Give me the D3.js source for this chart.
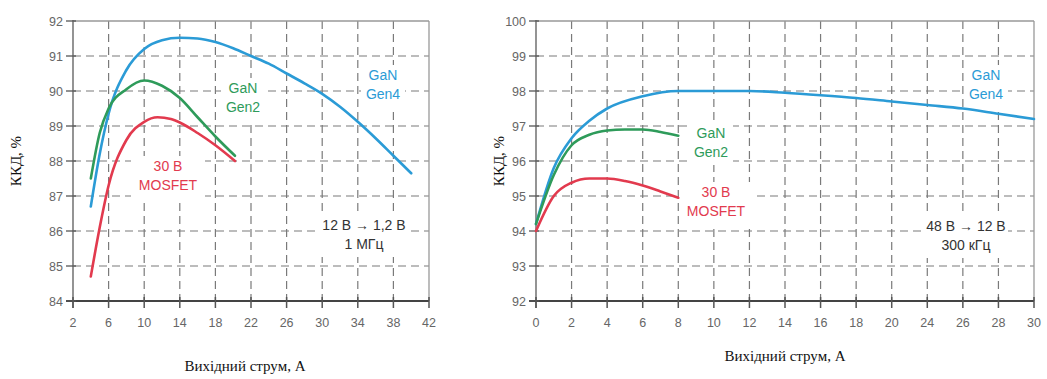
<!DOCTYPE html>
<html>
<head>
<meta charset="utf-8">
<script src="https://cdn.jsdelivr.net/npm/d3@7"></script>
<style>
  body { margin: 0; background: #fff; }
  .tick-label { font-family: Arial, "Liberation Sans", sans-serif; font-size: 12.5px; fill: #666; }
  .axis-title { font-family: "Times New Roman", "Liberation Serif", serif; font-size: 15px; fill: #111; }
  .note { font-family: Arial, "Liberation Sans", sans-serif; font-size: 14px; }
</style>
</head>
<body>
<svg id="chart" width="1047" height="379"></svg>
<script>
// Left chart: 12 V -> 1.2 V, 1 MHz
var left_x = [4, 5, 6, 8, 10, 12, 14, 16, 18, 20, 22, 24, 26, 28, 30, 32, 34, 36, 38, 40];
var left_gen4 = [86.7, 88.2, 89.35, 90.6, 91.2, 91.45, 91.52, 91.5, 91.4, 91.22, 91.0, 90.78, 90.5, 90.22, 89.92, 89.55, 89.12, 88.65, 88.15, 87.65];
var left_gen2_x = [4, 5, 6, 8, 10, 12, 14, 16, 18, 20.2];
var left_gen2 = [87.5, 88.8, 89.5, 90.05, 90.3, 90.15, 89.8, 89.25, 88.7, 88.15];
var left_mos_x = [4, 5, 6, 8, 10, 11.5, 13, 14, 16, 18, 20.2];
var left_mos = [84.7, 86.1, 87.3, 88.6, 89.12, 89.25, 89.2, 89.1, 88.8, 88.45, 88.0];
var left_xticks = [2, 6, 10, 14, 18, 22, 26, 30, 34, 38, 42];
var left_yticks = [84, 85, 86, 87, 88, 89, 90, 91, 92];

// Right chart: 48 V -> 12 V, 300 kHz (tick labels as printed, "22" is missing)
var right_x = [0, 1, 2, 3, 4, 6, 8, 10, 12, 14, 16, 18, 20, 22, 24, 26, 28];
var right_gen4 = [94.2, 95.8, 96.65, 97.15, 97.5, 97.85, 98.0, 98.0, 98.0, 97.95, 97.88, 97.8, 97.7, 97.6, 97.5, 97.35, 97.2];
var right_gen2_x = [0, 1, 2, 3, 4, 5, 6, 7, 8];
var right_gen2 = [94.2, 95.6, 96.45, 96.75, 96.87, 96.9, 96.9, 96.83, 96.72];
var right_mos_x = [0, 1, 2, 3, 4, 5, 6, 7, 8];
var right_mos = [94.0, 95.0, 95.38, 95.5, 95.5, 95.43, 95.3, 95.13, 94.95];
var right_xtick_pos = [0, 2, 4, 6, 8, 10, 12, 14, 16, 18, 20, 22, 24, 26, 28];
var right_xtick_labels = ["0", "2", "4", "6", "8", "10", "12", "14", "16", "18", "20", "24", "26", "28", "30"];
var right_yticks = [92, 93, 94, 95, 96, 97, 98, 99, 100];

var COL_GEN4 = "#2b9bd6";
var COL_GEN2 = "#2e9b5a";
var COL_MOS = "#e23a4e";

var svg = d3.select("#chart");

function draw_panel(cfg) {
    var x = d3.scaleLinear().domain(cfg.xdomain).range([cfg.left, cfg.right]);
    var y = d3.scaleLinear().domain(cfg.ydomain).range([cfg.bottom, cfg.top]);
    var g = svg.append("g");

    // Dashed grid
    var grid = g.append("g").attr("stroke", "#7a7a7a").attr("stroke-width", 1.2)
            .attr("stroke-dasharray", "8,5");
    cfg.xticks.slice(1, -1).forEach(function (t) {
        grid.append("line").attr("x1", x(t)).attr("x2", x(t))
                .attr("y1", cfg.top).attr("y2", cfg.bottom);
    });
    cfg.yticks.slice(1, -1).forEach(function (t) {
        grid.append("line").attr("x1", cfg.left).attr("x2", cfg.right)
                .attr("y1", y(t)).attr("y2", y(t));
    });

    // Frame: top/right lighter, left/bottom darker
    g.append("line").attr("x1", cfg.left).attr("x2", cfg.right).attr("y1", cfg.top).attr("y2", cfg.top)
            .attr("stroke", "#999").attr("stroke-width", 1.3);
    g.append("line").attr("x1", cfg.right).attr("x2", cfg.right).attr("y1", cfg.top).attr("y2", cfg.bottom)
            .attr("stroke", "#999").attr("stroke-width", 1.3);
    g.append("line").attr("x1", cfg.left).attr("x2", cfg.left).attr("y1", cfg.top - 1).attr("y2", cfg.bottom + 7)
            .attr("stroke", "#888").attr("stroke-width", 1.8);
    g.append("line").attr("x1", cfg.left - 7).attr("x2", cfg.right).attr("y1", cfg.bottom).attr("y2", cfg.bottom)
            .attr("stroke", "#444").attr("stroke-width", 1.8);

    // Tick marks
    cfg.xticks.forEach(function (t) {
        g.append("line").attr("x1", x(t)).attr("x2", x(t))
                .attr("y1", cfg.bottom - 4).attr("y2", cfg.bottom + 7)
                .attr("stroke", "#555").attr("stroke-width", 1.5);
    });
    cfg.yticks.forEach(function (t) {
        g.append("line").attr("x1", cfg.left - 7).attr("x2", cfg.left + 3)
                .attr("y1", y(t)).attr("y2", y(t))
                .attr("stroke", "#555").attr("stroke-width", 1.3);
    });

    // Tick labels
    cfg.xticks.forEach(function (t, i) {
        g.append("text").attr("class", "tick-label")
                .attr("x", x(t)).attr("y", cfg.bottom + 26)
                .attr("text-anchor", "middle")
                .text(cfg.xlabels ? cfg.xlabels[i] : t);
    });
    cfg.yticks.forEach(function (t) {
        g.append("text").attr("class", "tick-label")
                .attr("x", cfg.left - 10).attr("y", y(t) + 4.5)
                .attr("text-anchor", "end")
                .text(t);
    });

    // Notes with white boxes behind
    cfg.notes.forEach(function (n) {
        var ng = g.append("g");
        var w = n.w, h = n.lines.length * 19 + 4;
        ng.append("rect").attr("x", n.x - w / 2).attr("y", n.y - 15)
                .attr("width", w).attr("height", h).attr("fill", "#fff");
        n.lines.forEach(function (s, k) {
            ng.append("text").attr("class", "note")
                    .attr("x", n.x).attr("y", n.y + k * 19)
                    .attr("text-anchor", "middle")
                    .attr("font-size", n.size || 14)
                    .attr("fill", n.color).text(s);
        });
    });

    // Curves
    var line = d3.line().x(function (d) { return x(d[0]); })
            .y(function (d) { return y(d[1]); })
            .curve(d3.curveMonotoneX);
    cfg.series.forEach(function (s) {
        g.append("path").datum(d3.zip(s.x, s.y))
                .attr("d", line)
                .attr("fill", "none")
                .attr("stroke", s.color)
                .attr("stroke-width", 2.6)
                .attr("stroke-linecap", "round");
    });

    // Axis titles
    g.append("text").attr("class", "axis-title")
            .attr("transform", "translate(" + cfg.ytitle_x + "," + ((cfg.top + cfg.bottom) / 2) + ") rotate(-90)")
            .attr("text-anchor", "middle")
            .text("ККД, %");
    g.append("text").attr("class", "axis-title")
            .attr("x", cfg.xtitle_x).attr("y", cfg.xtitle_y)
            .attr("text-anchor", "middle")
            .text("Вихідний струм, А");
}

draw_panel({
    left: 73, right: 429, top: 21, bottom: 301,
    xdomain: [2, 42], ydomain: [84, 92],
    xticks: left_xticks, yticks: left_yticks,
    series: [
        {x: left_x, y: left_gen4, color: COL_GEN4},
        {x: left_gen2_x, y: left_gen2, color: COL_GEN2},
        {x: left_mos_x, y: left_mos, color: COL_MOS}
    ],
    notes: [
        {x: 243, y: 93, lines: ["GaN", "Gen2"], color: COL_GEN2, w: 44},
        {x: 383, y: 80, lines: ["GaN", "Gen4"], color: COL_GEN4, w: 44},
        {x: 168, y: 171, lines: ["30 В", "MOSFET"], color: COL_MOS, w: 74},
        {x: 364, y: 230, lines: ["12 В → 1,2 В", "1 МГц"], color: "#333", w: 88, size: 12.5}
    ],
    ytitle_x: 21, xtitle_x: 245, xtitle_y: 371
});

draw_panel({
    left: 536, right: 1034, top: 21, bottom: 301,
    xdomain: [0, 28], ydomain: [92, 100],
    xticks: right_xtick_pos, xlabels: right_xtick_labels, yticks: right_yticks,
    series: [
        {x: right_x, y: right_gen4, color: COL_GEN4},
        {x: right_gen2_x, y: right_gen2, color: COL_GEN2},
        {x: right_mos_x, y: right_mos, color: COL_MOS}
    ],
    notes: [
        {x: 711, y: 138, lines: ["GaN", "Gen2"], color: COL_GEN2, w: 44},
        {x: 986, y: 80, lines: ["GaN", "Gen4"], color: COL_GEN4, w: 44},
        {x: 716, y: 197, lines: ["30 В", "MOSFET"], color: COL_MOS, w: 74},
        {x: 966, y: 231, lines: ["48 В → 12 В", "300 кГц"], color: "#333", w: 84, size: 12.5}
    ],
    ytitle_x: 504, xtitle_x: 785, xtitle_y: 361
});
</script>
</body>
</html>
